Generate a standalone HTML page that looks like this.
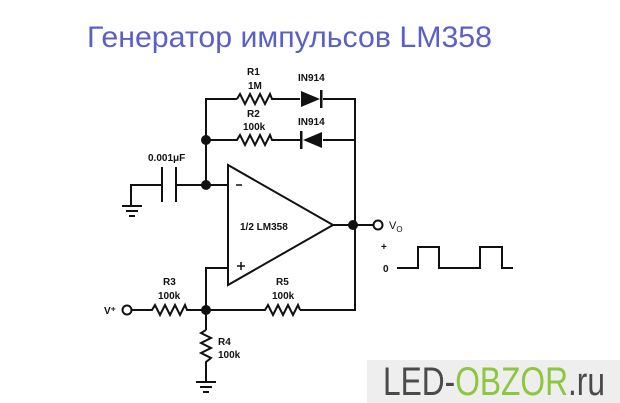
<!DOCTYPE html>
<html><head><meta charset="utf-8"><style>
html,body{margin:0;padding:0;background:#fff;}
svg{display:block;}
.l{font-family:"Liberation Sans",sans-serif;font-weight:bold;font-size:10px;fill:#111;}
</style></head><body>
<svg width="620" height="403" viewBox="0 0 620 403" xmlns="http://www.w3.org/2000/svg">
<text x="87" y="47" font-family="Liberation Sans, DejaVu Sans, sans-serif" font-size="30" fill="#5b60c8" textLength="405" lengthAdjust="spacingAndGlyphs">Генератор импульсов LM358</text>
<g stroke="#111" stroke-width="2" fill="none">
<!-- top feedback -->
<polyline points="206,185 206,99 237,99"/>
<polyline points="237,99 240,94 245,104 250,94 255,104 260,94 265,104 270,94 272,99 300,99"/>
<polyline points="323,99 355,99 355,310 300,310"/>
<polyline points="206,140 237,140 240,135 245,145 250,135 255,145 260,135 265,145 270,135 272,140 300,140"/>
<line x1="323" y1="140" x2="355" y2="140"/>
<!-- cap -->
<polyline points="131,205 131,185 162,185"/>
<line x1="162" y1="167" x2="162" y2="202"/>
<line x1="176" y1="167" x2="176" y2="202"/>
<line x1="176" y1="185" x2="228" y2="185"/>
<line x1="122" y1="206" x2="142" y2="206"/>
<line x1="126" y1="211" x2="138" y2="211"/>
<line x1="129" y1="216" x2="135" y2="216"/>
<!-- opamp -->
<polygon points="228,165 228,285 333,225"/>
<line x1="333" y1="225" x2="373" y2="225"/>
<polyline points="228,268 206,268 206,330"/>
<!-- R3 -->
<polyline points="132,310 152,310 155,305 160,315 165,305 170,315 175,305 180,315 185,305 187,310 206,310 265,310 268,305 273,315 278,305 283,315 288,305 293,315 298,305 300,310"/>
<!-- R4 -->
<polyline points="206,330 201,333 211,338 201,343 211,348 201,353 211,358 206,362 206,382"/>
<line x1="196" y1="382" x2="216" y2="382"/>
<line x1="200" y1="387" x2="212" y2="387"/>
<line x1="203" y1="392" x2="209" y2="392"/>
<!-- wave -->
<polyline points="397,268 418,268 418,247 439,247 439,268 480,268 480,247 502,247 502,268 513,268"/>
<!-- circles -->
<circle cx="127" cy="310" r="4.5" fill="#fff"/>
<circle cx="378" cy="225" r="4.5" fill="#fff"/>
</g>
<g fill="#111">
<polygon points="301,91 301,107 320,99"/><rect x="320" y="90" width="2.5" height="18"/>
<polygon points="322,132 322,148 303,140"/><rect x="300" y="131" width="2.5" height="18"/>
<circle cx="206" cy="140" r="5"/><circle cx="206" cy="185" r="5"/>
<circle cx="353" cy="225" r="5"/><circle cx="206" cy="310" r="5"/>
</g>
<g stroke="#111" stroke-width="1.5"><line x1="236" y1="185" x2="242" y2="185"/><line x1="237" y1="266" x2="245" y2="266"/><line x1="241" y1="262" x2="241" y2="270"/></g>
<text class="l" x="247" y="75">R1</text><text class="l" x="248" y="89">1M</text>
<text class="l" x="298" y="81">IN914</text>
<text class="l" x="247" y="117">R2</text><text class="l" x="243" y="130">100k</text>
<text class="l" x="298" y="125">IN914</text>
<text class="l" x="148" y="161">0.001μF</text>
<text class="l" x="240" y="230">1/2 LM358</text>
<text class="l" x="163" y="285">R3</text><text class="l" x="158" y="299">100k</text>
<text class="l" x="276" y="285">R5</text><text class="l" x="272" y="299">100k</text>
<text class="l" x="218" y="345">R4</text><text class="l" x="218" y="358">100k</text>
<text class="l" x="104" y="314">V⁺</text>
<text font-family="Liberation Sans,sans-serif" font-size="11" x="389" y="229" fill="#111">V<tspan font-size="8" dy="3">O</tspan></text>
<text class="l" x="381" y="250">+</text><text class="l" x="383" y="272">0</text>
<rect x="367" y="360" width="253" height="43" fill="#eeeeee"/>
<text x="383" y="395" font-family="Liberation Sans Narrow, Liberation Sans, sans-serif" font-size="40" textLength="222" lengthAdjust="spacingAndGlyphs" fill="#4a4a4a">LED-<tspan fill="#8dc63f">OBZOR</tspan>.ru</text>
</svg>
</body></html>
